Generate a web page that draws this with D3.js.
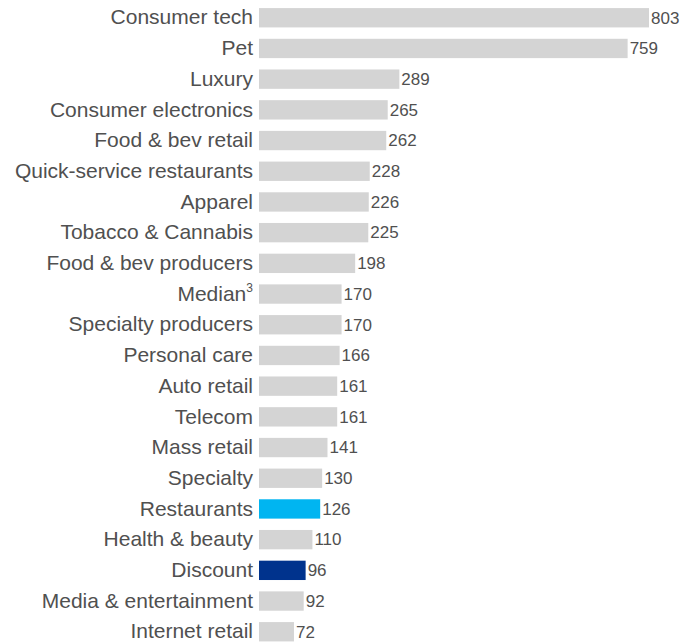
<!DOCTYPE html>
<html>
<head>
<meta charset="utf-8">
<script src="https://cdn.jsdelivr.net/npm/d3@7"></script>
<style>
  html, body { margin: 0; padding: 0; background: #fff; }
  svg { display: block; }
  text { font-family: "Liberation Sans", Arial, sans-serif; }
</style>
</head>
<body>
<svg id="chart" width="697" height="642"></svg>
<script>
// Sector names, top to bottom
const categories = [
  "Consumer tech", "Pet", "Luxury", "Consumer electronics", "Food & bev retail",
  "Quick-service restaurants", "Apparel", "Tobacco & Cannabis", "Food & bev producers",
  "Median", "Specialty producers", "Personal care", "Auto retail", "Telecom",
  "Mass retail", "Specialty", "Restaurants", "Health & beauty", "Discount",
  "Media & entertainment", "Internet retail"
];

// Value per sector
const values = [803, 759, 289, 265, 262, 228, 226, 225, 198, 170, 170, 166, 161, 161, 141, 130, 126, 110, 96, 92, 72];

// Footnote markers attached to labels
const footnotes = ["", "", "", "", "", "", "", "", "", "3", "", "", "", "", "", "", "", "", "", "", ""];

const colorFor = name =>
  name === "Restaurants" ? "#00b5f1" :
  name === "Discount" ? "#00338d" : "#d4d4d4";

const rows = categories.map((c, i) => ({ name: c, value: values[i], note: footnotes[i] }));

const svg = d3.select("#chart");

const x = d3.scaleLinear().domain([0, 803]).range([259, 649]);

const y = d3.scaleBand()
  .domain(categories)
  .range([2.4, 2.4 + 30.7 * 21])
  .paddingInner(0.37)
  .paddingOuter(0.185);

// Bars
svg.append("g")
  .selectAll("rect")
  .data(rows)
  .join("rect")
  .attr("x", x(0))
  .attr("y", d => y(d.name))
  .attr("width", d => x(d.value) - x(0))
  .attr("height", y.bandwidth())
  .attr("fill", d => colorFor(d.name));

// Category labels, right-aligned against the bars
const labels = svg.append("g")
  .selectAll("text")
  .data(rows)
  .join("text")
  .attr("x", x(0) - 6)
  .attr("y", d => y(d.name) + y.bandwidth() / 2)
  .attr("dy", "0.32em")
  .attr("text-anchor", "end")
  .attr("font-size", 21)
  .attr("fill", "#505050");

labels.append("tspan").text(d => d.name);
labels.filter(d => d.note)
  .append("tspan")
  .attr("font-size", 12)
  .attr("dy", "-0.75em")
  .text(d => d.note);

// Value labels at bar ends
svg.append("g")
  .selectAll("text")
  .data(rows)
  .join("text")
  .attr("x", d => x(d.value) + 2)
  .attr("y", d => y(d.name) + y.bandwidth() / 2)
  .attr("dy", "0.34em")
  .attr("font-size", 17)
  .attr("fill", "#505050")
  .text(d => d.value);
</script>
</body>
</html>
